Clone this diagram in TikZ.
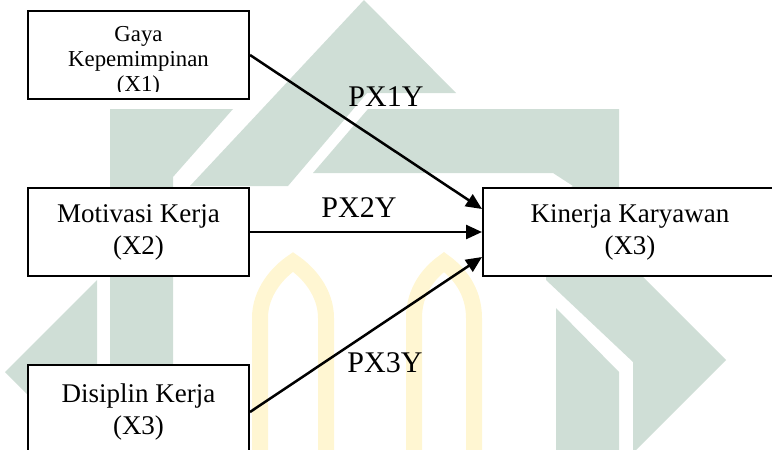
\documentclass[tikz,border=0pt]{standalone}
\usepackage{fontspec}
\setmainfont{Liberation Serif}
\usetikzlibrary{arrows.meta}

\definecolor{wmteal}{RGB}{207,222,214}
\definecolor{wmyellow}{RGB}{255,246,210}

\begin{document}
\begin{tikzpicture}[x=0.5pt,y=-0.5pt,
    box/.style={draw,fill=white,line width=1pt,minimum width=110.5pt,minimum height=44pt,
      align=center,font=\fontsize{13.5pt}{16pt}\selectfont},
    lbl/.style={anchor=base,font=\fontsize{15pt}{18pt}\selectfont},
    arr/.style={-{Triangle[length=8pt,width=7pt]},line width=1.25pt}]
  \useasboundingbox (0,0) rectangle (772,450);
  % watermark
  \fill[wmteal] (364,0) -- (456,93) -- (367,93) -- (288,186) -- (190,186) -- cycle;
  \fill[wmteal] (368,109) -- (619,109) -- (619,253) -- (726,360) -- (636,450) -- (633,450)
    -- (633,362) -- (546,280) -- (546,200) -- (573,186) -- (553,173) -- (313,173) -- cycle;
  \fill[wmteal] (556,308) -- (619,372) -- (619,450) -- (556,450) -- cycle;
  \fill[wmteal] (110,109) -- (233,109) -- (173,177) -- (173,450) -- (110,450) -- cycle;
  \fill[wmteal] (97,280) -- (97,465) -- (5,372) -- cycle;
  \draw[wmyellow,line width=8pt] (260,460) -- (260,318) .. controls (260,292) and (278,272) .. (293,262)
    .. controls (308,272) and (326,292) .. (326,318) -- (326,460);
  \draw[wmyellow,line width=8pt] (414,460) -- (414,318) .. controls (414,290) and (430,272) .. (444,262)
    .. controls (458,272) and (474,290) .. (474,318) -- (474,460);

  % variables
  \node[box] (x1) at (138.5,55) {};
  \begin{scope}
    \clip (x1.north west) rectangle ([yshift=4.5pt]x1.south east);
    \node[align=center,font=\fontsize{11.4pt}{12.5pt}\selectfont] (x1txt) at ([yshift=-3pt]x1.center)
      {Gaya\\Kepemimpinan\\(X1)};
  \end{scope}
  \node[box] (x2) at (138.5,232) {Motivasi Kerja\\(X2)};
  \node[box,minimum height=47pt] (x3) at (138.5,412) {Disiplin Kerja\\(X3)};
  \node[box,minimum width=147pt] (y) at (630,232) {Kinerja Karyawan\\(X3)};

  % paths
  \node[lbl] (px1y) at (386,106) {PX1Y};
  \node[lbl] (px2y) at (359,217) {PX2Y};
  \node[lbl] (px3y) at (385,372) {PX3Y};
  \path[arr]
    (x1.east) edge ([yshift=11.5pt]y.west)
    (x2) edge (y)
    (x3.east) edge ([yshift=-12.5pt]y.west);
\end{tikzpicture}
\end{document}
